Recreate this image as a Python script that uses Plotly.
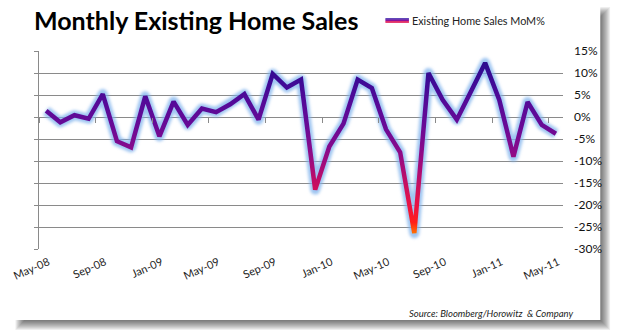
import plotly.graph_objects as go

# ---------------- data ----------------
x_tick_labels = ["May-08", "Sep-08", "Jan-09", "May-09", "Sep-09",
                 "Jan-10", "May-10", "Sep-10", "Jan-11", "May-11"]
mom_pct = [1.4, -1.2, 0.4, -0.4, 5.2, -5.5, -6.9, 4.7, -4.4, 3.5,
           -1.8, 1.9, 1.1, 2.9, 5.2, -0.6, 9.8, 6.7, 8.5, -16.5,
           -6.7, -1.5, 8.5, 6.6, -2.8, -8.0, -26.4, 10.0, 3.9, -0.6,
           5.8, 12.3, 3.9, -9.0, 3.4, -1.8, -3.8]
y_tick_values = [-30, -25, -20, -15, -10, -5, 0, 5, 10, 15]
y_tick_labels = ["-30%", "-25%", "-20%", "-15%", "-10%", "-5%", "0%", "5%", "10%", "15%"]
series_name = "Existing Home Sales MoM%"
title_text = "Monthly Existing Home Sales"
source_text = "Source: Bloomberg/Horowitz\u00a0 & Company"

# ---------------- layout helpers ----------------
W, H = 617, 336
ML, MR, MT, MB = 29, 54, 51, 87
PW, PH = W - ML - MR, H - MT - MB
FONT = "Lato, 'Open Sans', sans-serif"
GRID = "#8a8a8a"


def px(xp):
    return (xp - ML) / PW


def py(yp):
    return (H - MB - yp) / PH


x = list(range(len(mom_pct)))
# tick marks sit on category boundaries every 4 months
x_tick_pos = [i - 0.5 for i in range(0, len(mom_pct), 4)]
# labels are drawn slightly to the right of the tick marks (as in the source)
x_label_pos = [p + 0.65 for p in x_tick_pos]
xr = [-0.503, len(mom_pct) - 0.5]
yr = [y_tick_values[0], y_tick_values[-1]]

fig = go.Figure()
# glow under the line
fig.add_trace(go.Scatter(x=x, y=mom_pct, mode="lines", showlegend=False, hoverinfo="skip",
                         line=dict(color="rgba(125,178,236,0.75)", width=10)))
# main line (gradient applied in post script)
fig.add_trace(go.Scatter(x=x, y=mom_pct, mode="lines", name=series_name, showlegend=False,
                         line=dict(color="#620a98", width=4.5)))
# helper traces for the extra axes
fig.add_trace(go.Scatter(x=[0], y=[0], xaxis="x2", yaxis="y", mode="markers",
                         marker=dict(opacity=0), showlegend=False, hoverinfo="skip"))
fig.add_trace(go.Scatter(x=[0], y=[0], xaxis="x", yaxis="y2", mode="markers",
                         marker=dict(opacity=0), showlegend=False, hoverinfo="skip"))

shapes = []
# drop shadow of the picture frame
for e in range(-5, 6):
    shapes.append(dict(type="rect", xref="paper", yref="paper", layer="below",
                       x0=px(10 - e), x1=px(606 + e), y0=py(12 - e), y1=py(325 + e),
                       line=dict(width=0), fillcolor="rgba(0,0,0,0.065)"))
shapes.append(dict(type="rect", xref="paper", yref="paper", layer="below",
                   x0=px(-2), x1=px(601), y0=py(-2), y1=py(320),
                   line=dict(width=0), fillcolor="white"))
# legend sample (gradient-like)
for yy, col in [(19.0, "#3a1aa8"), (20.5, "#8a109c"), (22.0, "#e0104e")]:
    shapes.append(dict(type="line", xref="paper", yref="paper",
                       x0=px(382), x1=px(406), y0=py(yy), y1=py(yy),
                       line=dict(color=col, width=1.6)))

annotations = [
    dict(text="<b>" + title_text + "</b>", x=px(22), y=py(20), xref="paper", yref="paper",
         xanchor="left", yanchor="middle", showarrow=False,
         font=dict(family=FONT, size=25, color="black")),
    dict(text=series_name, x=px(407), y=py(21), xref="paper", yref="paper",
         xanchor="left", yanchor="middle", showarrow=False,
         font=dict(family=FONT, size=10.8, color="#222")),
    dict(text="<i>" + source_text + "</i>", x=px(575), y=py(313), xref="paper", yref="paper",
         xanchor="right", yanchor="middle", showarrow=False,
         font=dict(family=FONT, size=9.5, color="#222")),
]

fig.update_layout(
    width=W, height=H, margin=dict(l=ML, r=MR, t=MT, b=MB, pad=0),
    paper_bgcolor="white", plot_bgcolor="rgba(0,0,0,0)",
    showlegend=False, shapes=shapes, annotations=annotations,
    xaxis=dict(range=xr, tickvals=x_label_pos, ticktext=x_tick_labels, tickangle=-24,
               showgrid=False, zeroline=False, showline=False, ticks="",
               ticklabelstandoff=4,
               tickfont=dict(family=FONT, size=11, color="#222")),
    xaxis2=dict(range=xr, overlaying="x", anchor="free", position=(0 - yr[0]) / (yr[1] - yr[0]),
                tickvals=x_tick_pos, showticklabels=False, ticks="outside", ticklen=5,
                tickcolor=GRID, tickwidth=1, showgrid=False, zeroline=False, showline=False),
    yaxis=dict(range=yr, side="right", tickvals=y_tick_values, ticktext=y_tick_labels,
               showgrid=True, gridcolor=GRID, gridwidth=1, zeroline=False, showline=False,
               ticks="", ticklabelstandoff=10,
               tickfont=dict(family=FONT, size=12, color="#111")),
    yaxis2=dict(range=yr, overlaying="y", side="left", anchor="x", tickvals=y_tick_values,
                showticklabels=False, ticks="outside", ticklen=4, tickcolor=GRID,
                showline=True, linecolor=GRID, linewidth=1, showgrid=False, zeroline=False),
)

post_script = """
var gd = document.getElementById('{plot_id}');
var ya = gd._fullLayout.yaxis;
var ns = 'http://www.w3.org/2000/svg';
var svg = gd.querySelector('svg.main-svg');
var defs = svg.querySelector('defs');
if (!defs) { defs = document.createElementNS(ns, 'defs'); svg.insertBefore(defs, svg.firstChild); }
var stops = [[12.5,'#2c0c8e'],[8,'#3e0a96'],[3,'#560a98'],[-2,'#680a96'],[-7,'#860a8c'],
             [-12,'#ac0c74'],[-16.5,'#d0105a'],[-20.5,'#ee1240'],[-24,'#ff2018'],[-26.5,'#ff7400']];
var y1 = ya.l2p(stops[0][0]), y2 = ya.l2p(stops[stops.length-1][0]);
var lg = document.createElementNS(ns, 'linearGradient');
lg.setAttribute('id', 'lineGradMoM');
lg.setAttribute('gradientUnits', 'userSpaceOnUse');
lg.setAttribute('x1', 0); lg.setAttribute('x2', 0);
lg.setAttribute('y1', y1); lg.setAttribute('y2', y2);
stops.forEach(function(s){
  var st = document.createElementNS(ns, 'stop');
  st.setAttribute('offset', ((ya.l2p(s[0]) - y1) / (y2 - y1)).toFixed(4));
  st.setAttribute('stop-color', s[1]);
  lg.appendChild(st);
});
defs.appendChild(lg);
var f = document.createElementNS(ns, 'filter');
f.setAttribute('id', 'glowBlurMoM');
f.setAttribute('x', '-10%'); f.setAttribute('y', '-10%');
f.setAttribute('width', '120%'); f.setAttribute('height', '120%');
var b = document.createElementNS(ns, 'feGaussianBlur');
b.setAttribute('stdDeviation', '1.6');
f.appendChild(b);
defs.appendChild(f);
var paths = gd.querySelectorAll('.xy .scatterlayer .trace path.js-line');
if (paths.length >= 2) {
  paths[0].setAttribute('filter', 'url(#glowBlurMoM)');
  paths[0].style.strokeLinejoin = 'round';
  paths[1].style.stroke = 'url(#lineGradMoM)';
  paths[1].style.strokeLinejoin = 'miter';
}
"""

fig.write_html("out.html", config={"staticPlot": True}, post_script=post_script)
